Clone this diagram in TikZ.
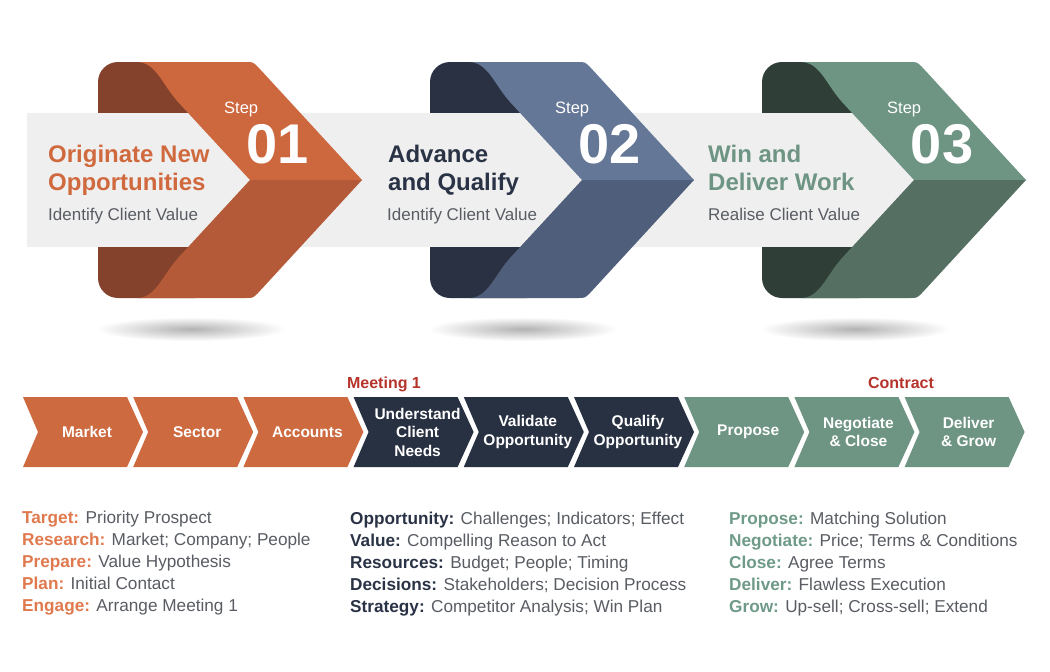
\documentclass[tikz,border=0pt]{standalone}
\usepackage{fontspec}
\setmainfont{Liberation Sans}
\definecolor{orA}{HTML}{CC673E}
\definecolor{orB}{HTML}{B55A38}
\definecolor{orC}{HTML}{84412B}
\definecolor{nvA}{HTML}{657796}
\definecolor{nvB}{HTML}{4F5E7A}
\definecolor{nvC}{HTML}{2A3142}
\definecolor{gnA}{HTML}{6E9484}
\definecolor{gnB}{HTML}{556F63}
\definecolor{gnC}{HTML}{2F3F38}
\definecolor{bandgray}{HTML}{EFEFEF}
\definecolor{txtgray}{HTML}{595D63}
\definecolor{ttlOr}{HTML}{D0693E}
\definecolor{ttlNv}{HTML}{2A3346}
\definecolor{ttlGn}{HTML}{6E9484}
\definecolor{rowOr}{HTML}{CD6A3F}
\definecolor{rowNv}{HTML}{283142}
\definecolor{rowGn}{HTML}{6E9484}
\definecolor{markred}{HTML}{B5332A}
\definecolor{lblOr}{HTML}{E07A4E}
\definecolor{lblNv}{HTML}{2A3346}
\definecolor{lblGn}{HTML}{6F9A88}
\tikzset{
  steplbl/.style={inner sep=0pt, text=white, font=\fontsize{16.5}{18}\selectfont},
  stepnum/.style={inner sep=0pt, text=white, font=\fontsize{56}{60}\selectfont\bfseries},
  ttl/.style={inner sep=0pt, font=\fontsize{24}{28}\selectfont\bfseries},
  subttl/.style={inner sep=0pt, text=txtgray, font=\fontsize{17}{20}\selectfont},
  rowlbl/.style={inner sep=0pt, text=white, align=center, font=\fontsize{15.5}{18.5}\selectfont\bfseries},
  marklbl/.style={inner sep=0pt, text=markred, font=\fontsize{16}{18}\selectfont\bfseries},
  body/.style={inner sep=0pt, text=txtgray, font=\fontsize{17.2}{22}\selectfont},
}
\begin{document}
\begin{tikzpicture}[x=1pt,y=-1pt]
\useasboundingbox (0,0) rectangle (1050,672);
\fill[white] (0,0) rectangle (1050,672);
% back parts
\foreach \o/\c in {0/orC,332/nvC,664/gnC}{
  \fill[\c, rounded corners=20] (98+\o,62) rectangle (215+\o,298);
}
% shadows
\foreach \o in {0,332,664}{
  \shade[inner color=black!30, outer color=white] (191+\o,329) ellipse (95 and 12);
}
% band
\fill[bandgray] (27,113) rectangle (950,247);
% front faces
\foreach \o/\a/\b in {0/orA/orB,332/nvA/nvB,664/gnA/gnB}{
  \begin{scope}[shift={(\o,0)}]
    \fill[\a] (250,180) -- (178,102) .. controls (162,84) and (156,63) .. (138,62)
      -- (246,62) .. controls (253,62) .. (258,67) -- (362,180) -- cycle;
    \fill[\b] (250,180) -- (178,258) .. controls (162,276) and (156,297) .. (138,298)
      -- (246,298) .. controls (253,298) .. (258,293) -- (362,180) -- cycle;
  \end{scope}
}
% step labels
\node[steplbl, anchor=base west] (s1) at (224,113) {Step};
\node[stepnum, anchor=base] (n1) at (278,163) {01};
\node[steplbl, anchor=base west] (s2) at (555,113) {Step};
\node[stepnum, anchor=base] (n2) at (610,163) {02};
\node[steplbl, anchor=base west] (s3) at (887,113) {Step};
\node[stepnum, anchor=base] (n3) at (942,163) {03};
% titles
\node[ttl, text=ttlOr, anchor=base west] (t1a) at (48,162) {Originate New};
\node[ttl, text=ttlOr, anchor=base west] (t1b) at (48,190) {Opportunities};
\node[subttl, anchor=base west] (u1) at (48,220) {Identify Client Value};
\node[ttl, text=ttlNv, anchor=base west] (t2a) at (388,162) {Advance};
\node[ttl, text=ttlNv, anchor=base west] (t2b) at (388,190) {and Qualify};
\node[subttl, anchor=base west] (u2) at (387,220) {Identify Client Value};
\node[ttl, text=ttlGn, anchor=base west] (t3a) at (708,162) {Win and};
\node[ttl, text=ttlGn, anchor=base west] (t3b) at (708,190) {Deliver Work};
\node[subttl, anchor=base west] (u3) at (708,220) {Realise Client Value};
% row chevrons
\foreach \i/\c/\t in {0/rowOr/{Market},1/rowOr/{Sector},2/rowOr/{Accounts},
  3/rowNv/{Understand\\Client\\Needs},4/rowNv/{Validate\\Opportunity},5/rowNv/{Qualify\\Opportunity},
  6/rowGn/{Propose},7/rowGn/{Negotiate\\\& Close},8/rowGn/{Deliver\\\& Grow}}{
  \pgfmathsetmacro{\xo}{23+110.2*\i}
  \fill[\c] (\xo,397) -- ({\xo+104},397) -- ({\xo+120},432) -- ({\xo+104},467)
    -- (\xo,467) -- ({\xo+15},432) -- cycle;
  \node[rowlbl] (r\i) at ({\xo+64},432) {\t};
}
\node[marklbl, anchor=base] (mt1) at (384,388) {Meeting 1};
\node[marklbl, anchor=base] (ct1) at (901,388) {Contract};
% columns of text
\foreach \l/\t [count=\i] in {{Target:}/{Priority Prospect},{Research:}/{Market; Company; People},
  {Prepare:}/{Value Hypothesis},{Plan:}/{Initial Contact},{Engage:}/{Arrange Meeting 1}}{
  \node[body, anchor=base west] (ca\i) at (22,{523+22*(\i-1)}) {\textcolor{lblOr}{\textbf{\l}} \t};
}
\foreach \l/\t [count=\i] in {{Opportunity:}/{Challenges; Indicators; Effect},{Value:}/{Compelling Reason to Act},
  {Resources:}/{Budget; People; Timing},{Decisions:}/{Stakeholders; Decision Process},{Strategy:}/{Competitor Analysis; Win Plan}}{
  \node[body, anchor=base west] (cb\i) at (350,{524+22*(\i-1)}) {\textcolor{lblNv}{\textbf{\l}} \t};
}
\foreach \l/\t [count=\i] in {{Propose:}/{Matching Solution},{Negotiate:}/{Price; Terms \& Conditions},
  {Close:}/{Agree Terms},{Deliver:}/{Flawless Execution},{Grow:}/{Up-sell; Cross-sell; Extend}}{
  \node[body, anchor=base west] (cc\i) at (729,{524+22*(\i-1)}) {\textcolor{lblGn}{\textbf{\l}} \t};
}
\end{tikzpicture}
\end{document}
